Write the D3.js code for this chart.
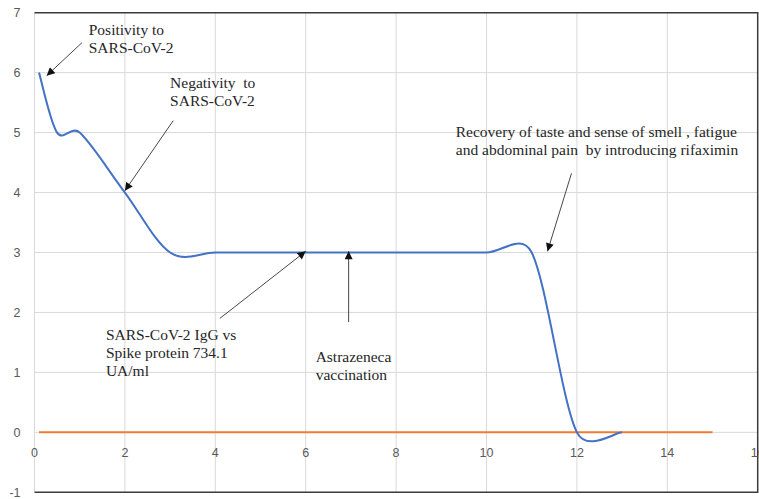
<!DOCTYPE html>
<html>
<head>
<meta charset="utf-8">
<script src="https://cdn.jsdelivr.net/npm/d3@7"></script>
<style>
  html, body { margin: 0; padding: 0; background: #fff; }
  svg { display: block; }
</style>
</head>
<body>
<svg id="chart" width="759" height="499"></svg>
<script>
// Time axis (x) and score (y) for the clinical course
const blueX = [0.1, 0.5, 1, 2, 3, 4, 5, 6, 7, 8, 9, 10, 11, 12, 13];
const blueY = [6, 5, 5, 4, 3, 3, 3, 3, 3, 3, 3, 3, 3, 0, 0];

const orangeX = [0.1, 1, 2, 3, 4, 5, 6, 7, 8, 9, 10, 11, 12, 13, 14, 15];
const orangeY = [0, 0, 0, 0, 0, 0, 0, 0, 0, 0, 0, 0, 0, 0, 0, 0];

const xTicks = [0, 2, 4, 6, 8, 10, 12, 14, 16];
const yTicks = [-1, 0, 1, 2, 3, 4, 5, 6, 7];

// Annotations: text lines, text anchor (data units), arrow start and tip (data units)
const notes = [
  { lines: ["Positivity to", "SARS-CoV-2"], tx: 1.2, ty: 6.62, from: [1.05, 6.5], to: [0.27, 5.95] },
  { lines: ["Negativity  to", "SARS-CoV-2"], tx: 3.0, ty: 5.74, from: [3.07, 5.2], to: [2.0, 4.03] },
  { lines: ["Recovery of taste and sense of smell , fatigue", "and abdominal pain  by introducing rifaximin"], tx: 9.32, ty: 4.92, from: [11.88, 4.32], to: [11.35, 3.02] },
  { lines: ["SARS-CoV-2 IgG vs", "Spike protein 734.1", "UA/ml"], tx: 1.58, ty: 1.54, from: [4.1, 1.9], to: [6.0, 3.02] },
  { lines: ["Astrazeneca", "vaccination"], tx: 6.22, ty: 1.18, from: [6.95, 1.84], to: [6.95, 3.02] }
];

// Smoothed line: Bezier segments with Catmull-Rom tangents, where each
// control arm is capped at half the length of its segment.
function smoothCurve(context) {
  let pts;
  return {
    areaStart() {}, areaEnd() {},
    lineStart() { pts = []; },
    point(px, py) { pts.push([+px, +py]); },
    lineEnd() {
      const n = pts.length;
      if (!n) return;
      context.moveTo(pts[0][0], pts[0][1]);
      for (let i = 0; i < n - 1; i++) {
        const p0 = pts[Math.max(i - 1, 0)], p1 = pts[i], p2 = pts[i + 1], p3 = pts[Math.min(i + 2, n - 1)];
        const cap = 0.5 * Math.hypot(p2[0] - p1[0], p2[1] - p1[1]);
        let a = [(p2[0] - p0[0]) / 6, (p2[1] - p0[1]) / 6];
        let b = [(p3[0] - p1[0]) / 6, (p3[1] - p1[1]) / 6];
        const la = Math.hypot(a[0], a[1]), lb = Math.hypot(b[0], b[1]);
        if (la > cap) a = [a[0] * cap / la, a[1] * cap / la];
        if (lb > cap) b = [b[0] * cap / lb, b[1] * cap / lb];
        context.bezierCurveTo(p1[0] + a[0], p1[1] + a[1], p2[0] - b[0], p2[1] - b[1], p2[0], p2[1]);
      }
    }
  };
}

const svg = d3.select("#chart");
const x = d3.scaleLinear().domain([0, 16]).range([34.5, 757.7]);
const y = d3.scaleLinear().domain([-1, 7]).range([492.3, 12.7]);

// Gridlines
const grid = svg.append("g");
grid.selectAll("line.v").data(xTicks.filter(d => d < 16)).join("line")
  .attr("x1", d => x(d)).attr("x2", d => x(d))
  .attr("y1", y(7)).attr("y2", y(-1))
  .attr("stroke", "#d9d9d9").attr("stroke-width", 1);
grid.selectAll("line.h").data(yTicks.filter(d => d > -1 && d < 7)).join("line")
  .attr("x1", x(0)).attr("x2", x(16))
  .attr("y1", d => y(d)).attr("y2", d => y(d))
  .attr("stroke", "#d9d9d9").attr("stroke-width", 1);

// Frame at top, bottom and right
svg.append("path")
  .attr("d", `M${x(0)},${y(7)}H${x(16)}V${y(-1)}H${x(0)}`)
  .attr("fill", "none").attr("stroke", "#3a3a3a").attr("stroke-width", 1.5);

// Tick labels
svg.append("g").selectAll("text").data(yTicks).join("text")
  .attr("x", x(0) - 14).attr("y", d => y(d) + 4.5)
  .attr("text-anchor", "end")
  .attr("font-family", "'Liberation Sans', Arial, sans-serif")
  .attr("font-size", 12.5).attr("fill", "#595959")
  .text(d => d);
svg.append("g").selectAll("text").data(xTicks).join("text")
  .attr("x", d => x(d)).attr("y", y(0) + 25)
  .attr("text-anchor", "middle")
  .attr("font-family", "'Liberation Sans', Arial, sans-serif")
  .attr("font-size", 12.5).attr("fill", "#595959")
  .text(d => d);

// Series
const line = d3.line().curve(smoothCurve);
svg.append("path")
  .attr("d", line(orangeX.map((d, i) => [x(d), y(orangeY[i])])))
  .attr("fill", "none").attr("stroke", "#ED7D31").attr("stroke-width", 2);
svg.append("path")
  .attr("d", line(blueX.map((d, i) => [x(d), y(blueY[i])])))
  .attr("fill", "none").attr("stroke", "#4472C4").attr("stroke-width", 2)
  .attr("stroke-linejoin", "round");

// Arrow marker
svg.append("defs").append("marker")
  .attr("id", "arrow").attr("viewBox", "0 0 10 10")
  .attr("refX", 10).attr("refY", 5)
  .attr("markerWidth", 9).attr("markerHeight", 8)
  .attr("markerUnits", "userSpaceOnUse")
  .attr("orient", "auto")
  .append("path").attr("d", "M0,0L10,5L0,10Z").attr("fill", "#111");

const ann = svg.append("g");
notes.forEach(n => {
  ann.append("line")
    .attr("x1", x(n.from[0])).attr("y1", y(n.from[1]))
    .attr("x2", x(n.to[0])).attr("y2", y(n.to[1]))
    .attr("stroke", "#333").attr("stroke-width", 0.9)
    .attr("marker-end", "url(#arrow)");
  const t = ann.append("text")
    .attr("x", x(n.tx)).attr("y", y(n.ty))
    .attr("font-family", "'Liberation Serif', 'Times New Roman', serif")
    .attr("font-size", 15.5).attr("fill", "#262626");
  n.lines.forEach((s, i) => {
    t.append("tspan").attr("x", x(n.tx)).attr("dy", i === 0 ? 0 : 18).attr("xml:space", "preserve").text(s);
  });
});
</script>
</body>
</html>
